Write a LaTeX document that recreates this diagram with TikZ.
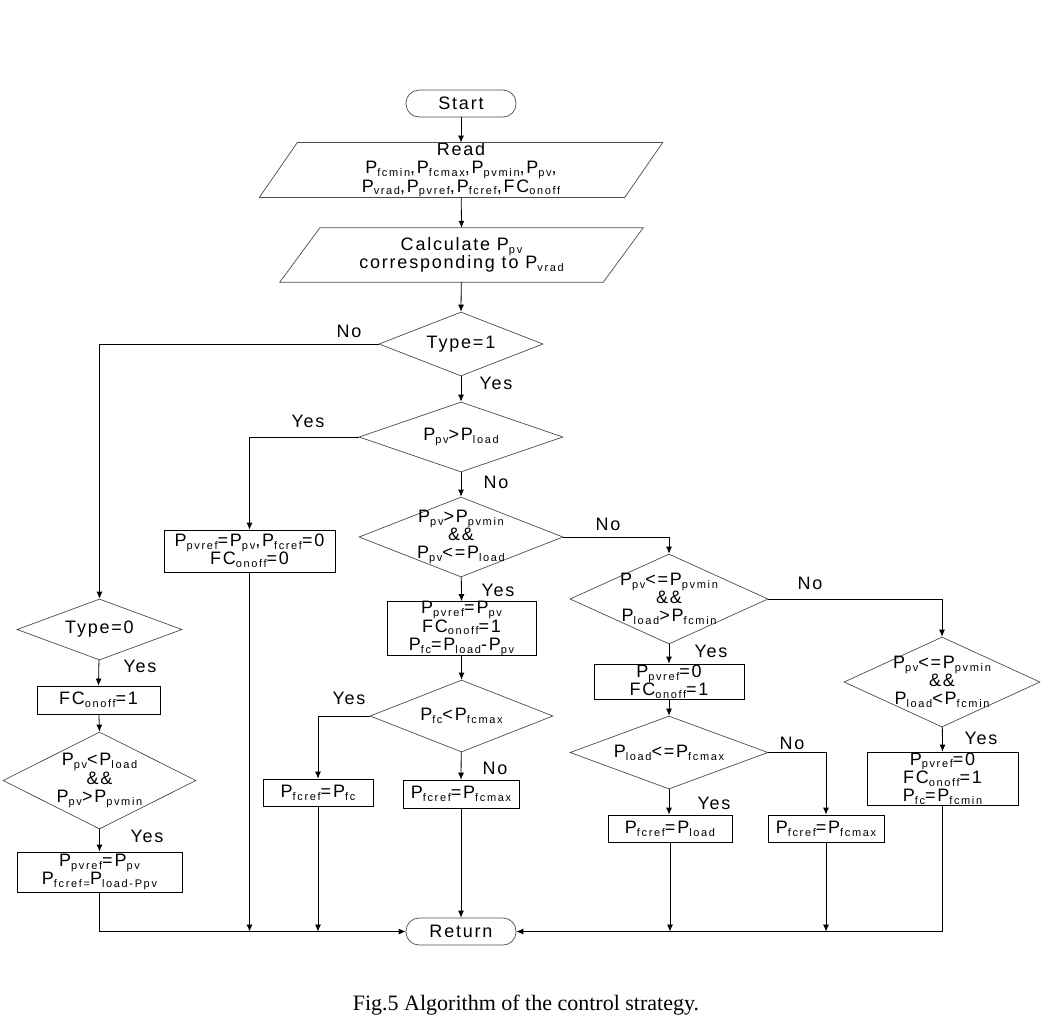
\documentclass[tikz,border=0pt]{standalone}
\usepackage{fontspec}
\setmainfont{Liberation Sans}[LetterSpace=10]
\newfontfamily\subfont{Liberation Sans}[LetterSpace=15]
\newfontfamily\capfont{Liberation Serif}
\usetikzlibrary{arrows.meta,shapes.geometric}
\newcommand\sbs[1]{\raisebox{-2.8pt}{\subfont\fontsize{11}{11}\selectfont #1}}
\lineskiplimit=-20pt
\begin{document}
\begin{tikzpicture}[x=1pt,y=-1pt,
  font=\fontsize{18}{18.2}\selectfont,
  line/.style={line width=0.8pt},
  arr/.style={line, -{Latex[length=7pt,width=6pt]}},
  box/.style={draw=black, line width=0.8pt, align=center, inner sep=0pt},
  dia/.style={draw=gray!60!black, diamond, line width=0.7pt, inner sep=0pt},
  txt/.style={align=center, inner sep=0pt},
  lbl/.style={inner sep=0pt},
  term/.style={draw=gray!60!black, line width=0.7pt, rounded corners=13pt, minimum width=110pt, minimum height=27pt, inner sep=0pt},
  para/.style={align=center, inner sep=0pt}]
\useasboundingbox (0,0) rectangle (1044,1026);

% terminals and input blocks
\node[term] (start) at (461,103.5) {Start};
\node[para, minimum width=365pt, minimum height=54pt] (read) at (461,170)
  {Read\\P\sbs{fcmin},P\sbs{fcmax},P\sbs{pvmin},P\sbs{pv},\\P\sbs{vrad},P\sbs{pvref},P\sbs{fcref},FC\sbs{onoff}};
\draw[draw=gray!60!black, line width=0.7pt] ([xshift=19pt]read.north west) -- ([xshift=19pt]read.north east)
  -- ([xshift=-19pt]read.south east) -- ([xshift=-19pt]read.south west) -- cycle;
\node[para, minimum width=323pt, minimum height=54pt] (calc) at (461.5,255)
  {Calculate P\sbs{pv}\\corresponding to P\sbs{vrad}};
\draw[draw=gray!60!black, line width=0.7pt] ([xshift=20pt]calc.north west) -- ([xshift=20pt]calc.north east)
  -- ([xshift=-20pt]calc.south east) -- ([xshift=-20pt]calc.south west) -- cycle;

% decisions
\node[dia, minimum width=164pt, minimum height=64pt] (d1) at (461,344) {};
\node[txt] (d1t) at (d1) {Type=1};
\node[dia, minimum width=204pt, minimum height=70pt] (d2) at (461,437) {};
\node[txt] (d2t) at (d2) {P\sbs{pv}>P\sbs{load}};
\node[dia, minimum width=204pt, minimum height=80pt] (d3) at (461,537) {};
\node[txt] (d3t) at (d3) {P\sbs{pv}>P\sbs{pvmin}\\\&\&\\P\sbs{pv}<=P\sbs{load}};
\node[dia, minimum width=183pt, minimum height=72pt] (d4) at (461.5,716) {};
\node[txt] (d4t) at (d4) {P\sbs{fc}<P\sbs{fcmax}};
\node[dia, minimum width=198pt, minimum height=90pt] (d5) at (669,599) {};
\node[txt] (d5t) at (d5) {P\sbs{pv}<=P\sbs{pvmin}\\\&\&\\P\sbs{load}>P\sbs{fcmin}};
\node[dia, minimum width=196pt, minimum height=90pt] (d6) at (942,682) {};
\node[txt] (d6t) at (d6) {P\sbs{pv}<=P\sbs{pvmin}\\\&\&\\P\sbs{load}<P\sbs{fcmin}};
\node[dia, minimum width=198pt, minimum height=73pt] (d7) at (669,752.5) {};
\node[txt] (d7t) at (d7) {P\sbs{load}<=P\sbs{fcmax}};
\node[dia, minimum width=165pt, minimum height=61pt] (d8) at (99.5,629.5) {};
\node[txt] (d8t) at (d8) {Type=0};
\node[dia, minimum width=193pt, minimum height=97pt] (d9) at (99.5,780.5) {};
\node[txt] (d9t) at (d9) {P\sbs{pv}<P\sbs{load}\\\&\&\\P\sbs{pv}>P\sbs{pvmin}};

% process boxes
\node[box, minimum width=171pt, minimum height=42pt] (b1) at (249.5,551)
  {P\sbs{pvref}=P\sbs{pv},P\sbs{fcref}=0\\FC\sbs{onoff}=0};
\node[box, minimum width=149pt, minimum height=53pt] (b2) at (461.5,628.5)
  {P\sbs{pvref}=P\sbs{pv}\\FC\sbs{onoff}=1\\P\sbs{fc}=P\sbs{load}-P\sbs{pv}};
\node[box, minimum width=110pt, minimum height=27pt] (b3) at (318,792.5) {P\sbs{fcref}=P\sbs{fc}};
\node[box, minimum width=116pt, minimum height=28pt] (b4) at (461,794) {P\sbs{fcref}=P\sbs{fcmax}};
\node[box, minimum width=151pt, minimum height=53pt] (b5) at (942.5,778.5)
  {P\sbs{pvref}=0\\FC\sbs{onoff}=1\\P\sbs{fc}=P\sbs{fcmin}};
\node[box, minimum width=150pt, minimum height=35pt] (b6) at (669,681.5)
  {P\sbs{pvref}=0\\FC\sbs{onoff}=1};
\node[box, minimum width=124pt, minimum height=27pt] (b7) at (670,828.5) {P\sbs{fcref}=P\sbs{load}};
\node[box, minimum width=116pt, minimum height=27pt] (b8) at (826,828.5) {P\sbs{fcref}=P\sbs{fcmax}};
\node[box, minimum width=123pt, minimum height=28pt] (b9) at (98.5,700) {FC\sbs{onoff}=1};
\node[box, minimum width=165pt, minimum height=40pt] (b10) at (99.5,872)
  {P\sbs{pvref}=P\sbs{pv}\\P\sbs{fcref=}P\sbs{load-Ppv}};

\node[term] (ret) at (461,931.5) {Return};

% connectors
\draw[arr] (start) -- (read.north);
\draw[arr] (read) -- (calc.north);
\draw[arr] (calc) -- (d1.north);
\draw[arr] (d1.west) -| (d8.north);
\draw[arr] (d1) -- (d2.north);
\draw[arr] (d2.west) -| (b1.north);
\draw[arr] (d2) -- (d3.north);
\draw[arr] (d3.east) -| (d5.north);
\draw[arr] (d3) -- (b2.north);
\draw[arr] (b2) -- (d4.north);
\draw[arr] (d4.west) -| (b3.north);
\draw[arr] (d4) -- (b4.north);
\draw[arr] (d5.east) -| (d6.north);
\draw[arr] (d5) -- (b6.north);
\draw[arr] (b6) -- (d7.north);
\draw[arr] (d7.east) -| (b8.north);
\draw[arr] (d7.south) -- (d7.south |- b7.north);
\draw[arr] (d6) -- (b5.north);
\draw[arr] (d8) -- (b9.north);
\draw[arr] (b9) -- (d9.north);
\draw[arr] (d9) -- (b10.north);

\draw[arr] (b10.south) |- (ret.west);
\draw[arr] (b1.south) -- (b1.south |- ret.west);
\draw[arr] (b3.south) -- (b3.south |- ret.west);
\draw[arr] (b4) -- (ret.north);
\draw[arr] (b7.south) -- (b7.south |- ret.west);
\draw[arr] (b8.south) -- (b8.south |- ret.west);
\draw[arr] (b5.south) |- (ret.east);

% branch labels
\node[lbl] (l1) at (349,331) {No};
\node[lbl] (l2) at (496,383) {Yes};
\node[lbl] (l3) at (308,421) {Yes};
\node[lbl] (l4) at (496,482) {No};
\node[lbl] (l5) at (608,524) {No};
\node[lbl] (l6) at (498,590) {Yes};
\node[lbl] (l7) at (349,698) {Yes};
\node[lbl] (l8) at (495,768) {No};
\node[lbl] (l9) at (810,583) {No};
\node[lbl] (l10) at (711,651) {Yes};
\node[lbl] (l11) at (792,743) {No};
\node[lbl] (l12) at (714,803) {Yes};
\node[lbl] (l13) at (981,738) {Yes};
\node[lbl] (l14) at (140,666) {Yes};
\node[lbl] (l15) at (147,836) {Yes};

\node[inner sep=0pt] (cap) at (526,1005) {\capfont\fontsize{22}{26}\selectfont Fig.5 Algorithm of the control strategy.};
\end{tikzpicture}
\end{document}
